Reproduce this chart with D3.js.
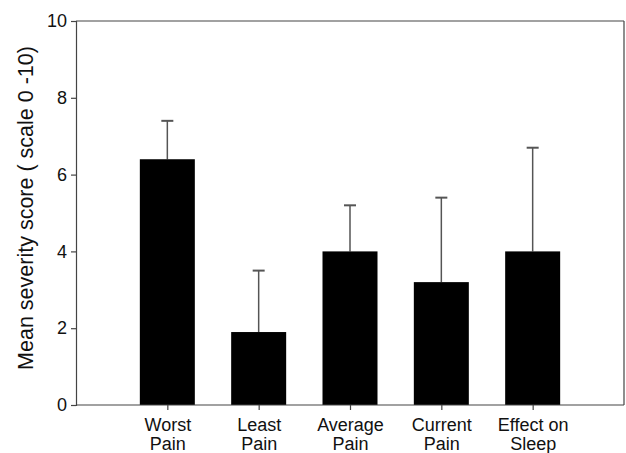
<!DOCTYPE html>
<html><head><meta charset="utf-8">
<script src="https://cdn.jsdelivr.net/npm/d3@7"></script>
<style>body{margin:0;background:#fff}svg{display:block}text{font-family:"Liberation Sans",Arial,sans-serif}</style>
</head><body>
<svg id="c" width="626" height="453"></svg>
<script>
const categories = [["Worst","Pain"],["Least","Pain"],["Average","Pain"],["Current","Pain"],["Effect on","Sleep"]];
const means = [6.4, 1.9, 4.0, 3.2, 4.0];
const upperErr = [7.4, 3.5, 5.2, 5.4, 6.7];
const yTicks = [0, 2, 4, 6, 8, 10];
const yLabel = "Mean severity score ( scale 0 -10)";

const svg = d3.select("#c");
const L = 76, R = 624, T = 21, B = 405;
const keys = categories.map((d,i)=>i);
const x = d3.scalePoint().domain(keys).range([L, R]).padding(1);
const y = d3.scaleLinear().domain([0, 10]).range([B, T]);
const bw = 55;
const axisColor = "#444";
const ff = "'Liberation Sans',Arial,sans-serif";

// frame top and right
svg.append("line").attr("x1",L).attr("x2",R).attr("y1",T).attr("y2",T).attr("stroke",axisColor).attr("stroke-width",1.2);
svg.append("line").attr("x1",R).attr("x2",R).attr("y1",T).attr("y2",B).attr("stroke",axisColor).attr("stroke-width",1.2);

// error bars
const eg = svg.append("g");
keys.forEach(i=>{
  const cx = x(i);
  eg.append("line").attr("x1",cx).attr("x2",cx).attr("y1",y(means[i])).attr("y2",y(upperErr[i])).attr("stroke","#555").attr("stroke-width",1.5);
  eg.append("line").attr("x1",cx-6).attr("x2",cx+6).attr("y1",y(upperErr[i])).attr("y2",y(upperErr[i])).attr("stroke","#555").attr("stroke-width",2);
});

// bars
svg.append("g").selectAll("rect").data(keys).join("rect")
  .attr("x", i=>x(i)-bw/2).attr("width", bw)
  .attr("y", i=>y(means[i])).attr("height", i=>B - y(means[i]))
  .attr("fill","#000");

// y axis
const ya = svg.append("g").attr("transform",`translate(${L},0)`)
  .call(d3.axisLeft(y).tickValues(yTicks).tickSize(5).tickPadding(4).tickFormat(d3.format("d")));
ya.select(".domain").attr("stroke",axisColor).attr("stroke-width",1.2);
ya.selectAll(".tick line").attr("stroke",axisColor).attr("stroke-width",1.2);
ya.selectAll(".tick text").attr("font-size",18).attr("fill","#111").style("font-family",ff);

// x axis
const xa = svg.append("g").attr("transform",`translate(0,${B})`)
  .call(d3.axisBottom(x).tickSize(5).tickSizeOuter(0).tickFormat(""));
xa.select(".domain").attr("stroke",axisColor).attr("stroke-width",1.2).attr("d",`M${L},0H${R}`);
xa.selectAll(".tick line").attr("stroke",axisColor).attr("stroke-width",1.2);
xa.selectAll(".tick").each(function(i){
  const t = d3.select(this).append("text").attr("fill","#111").attr("font-size",18).attr("text-anchor","middle")
    .style("font-family",ff);
  t.append("tspan").attr("x",0).attr("y",26).text(categories[i][0]);
  t.append("tspan").attr("x",0).attr("y",44.5).text(categories[i][1]);
});

// y label
svg.append("text").attr("transform",`translate(33,208) rotate(-90)`)
  .attr("text-anchor","middle").attr("font-size",21.5).attr("fill","#111").style("font-family",ff).text(yLabel);
</script>
</body></html>
